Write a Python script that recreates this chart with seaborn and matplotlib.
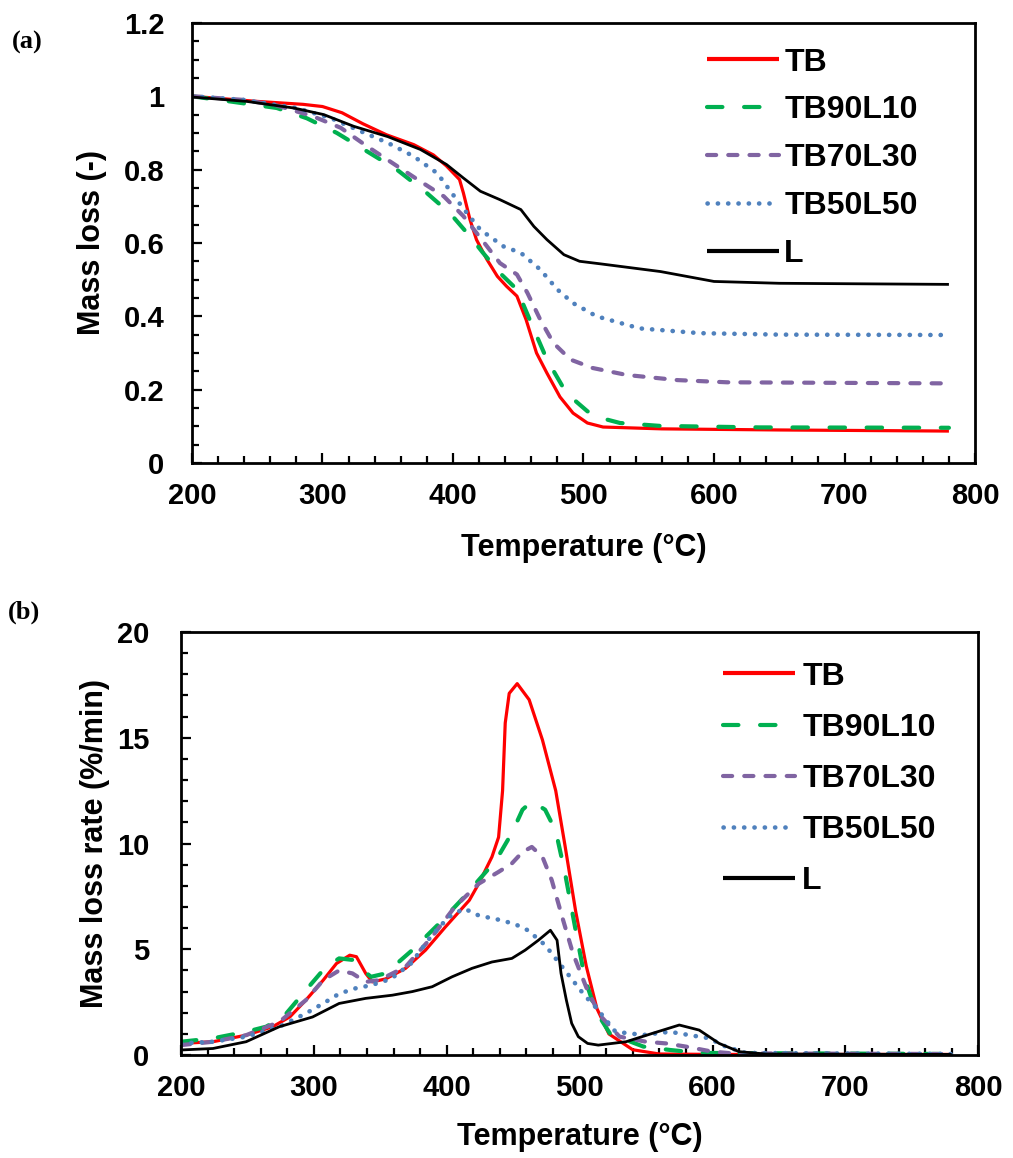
# TGA / DTG curves for TB, lignin (L) and their blends

import pandas as pd
import numpy as np

import matplotlib
matplotlib.use("Agg")
import matplotlib.pyplot as plt
import seaborn as sns
from matplotlib.ticker import MultipleLocator, FuncFormatter


# ---- data ----
names = ["TB", "TB90L10", "TB70L30", "TB50L50", "L"]

# (a) mass loss (-)
tb_T_a = [200, 250, 285, 300, 315, 331, 349, 370, 385, 395, 405, 408, 413, 418, 426, 434,
          441, 449, 456, 464, 472, 482, 492, 503, 515, 560, 650, 780]
tb_m_a = [1.0, 0.986, 0.978, 0.972, 0.955, 0.925, 0.895, 0.868, 0.84, 0.81, 0.773, 0.736,
          0.664, 0.609, 0.555, 0.509, 0.482, 0.455, 0.391, 0.30, 0.245, 0.18, 0.136, 0.109,
          0.098, 0.093, 0.09, 0.087]

tb90_T_a = [200, 229, 265, 288, 311, 334, 357, 380, 398, 413, 423, 436, 449, 462, 472, 487,
            503, 513, 528, 559, 635, 780]
tb90_m_a = [1.0, 0.986, 0.968, 0.94, 0.90, 0.85, 0.80, 0.736, 0.68, 0.618, 0.573, 0.518,
            0.473, 0.364, 0.282, 0.19, 0.141, 0.123, 0.109, 0.101, 0.097, 0.096]

tb70_T_a = [200, 240, 265, 293, 314, 334, 357, 375, 393, 408, 421, 436, 449, 457, 467, 477,
            490, 507, 533, 572, 610, 780]
tb70_m_a = [1.0, 0.99, 0.975, 0.945, 0.914, 0.864, 0.81, 0.768, 0.727, 0.673, 0.614, 0.545,
            0.514, 0.464, 0.39, 0.327, 0.282, 0.259, 0.24, 0.226, 0.22, 0.217]

tb50_T_a = [200, 240, 280, 306, 329, 350, 370, 388, 401, 411, 421, 439, 452, 467, 480, 492,
            510, 543, 589, 650, 780]
tb50_m_a = [1.0, 0.99, 0.968, 0.941, 0.905, 0.873, 0.836, 0.79, 0.727, 0.68, 0.636, 0.59,
            0.573, 0.527, 0.473, 0.436, 0.40, 0.367, 0.354, 0.35, 0.349]

l_T_a = [200, 242, 278, 301, 324, 350, 375, 395, 408, 421, 436, 452, 462, 472, 485, 497,
         513, 559, 600, 650, 780]
l_m_a = [0.998, 0.986, 0.968, 0.95, 0.918, 0.89, 0.855, 0.814, 0.777, 0.741, 0.718, 0.691,
         0.645, 0.609, 0.568, 0.55, 0.543, 0.522, 0.495, 0.49, 0.487]

# (b) mass loss rate (%/min)
tb_T_b = [200, 224, 249, 269, 282, 294, 307, 317, 327, 332, 339, 344, 354, 369, 384, 399,
          417, 424, 434, 439, 442, 444, 447, 453, 462, 472, 482, 489, 497, 505, 513, 522,
          540, 560, 600, 780]
tb_v_b = [0.55, 0.63, 0.94, 1.34, 1.81, 2.6, 3.54, 4.33, 4.72, 4.65, 3.86, 3.46, 3.6, 4.1,
          4.96, 6.06, 7.32, 8.1, 9.37, 10.3, 12.5, 15.7, 17.1, 17.56, 16.8, 14.9, 12.5, 9.9,
          6.8, 4.2, 2.2, 1.0, 0.25, 0.05, 0.03, 0.03]

tb90_T_b = [200, 224, 249, 264, 277, 294, 309, 319, 329, 337, 343, 354, 374, 394, 412, 424,
            437, 449, 457, 464, 474, 482, 489, 497, 504, 512, 523, 548, 568, 590, 780]
tb90_v_b = [0.63, 0.79, 1.1, 1.34, 1.8, 3.07, 4.17, 4.57, 4.5, 4.0, 3.7, 3.86, 4.96, 6.2,
            7.4, 8.27, 9.2, 10.5, 11.6, 12.0, 11.6, 10.6, 8.6, 5.9, 3.6, 2.1, 1.0, 0.4,
            0.24, 0.1, 0.05]

tb70_T_b = [200, 224, 249, 274, 294, 307, 319, 329, 339, 349, 369, 389, 406, 424, 439, 449,
            457, 464, 472, 479, 487, 495, 505, 515, 530, 550, 565, 580, 600, 615, 780]
tb70_v_b = [0.47, 0.63, 0.94, 1.57, 2.6, 3.54, 4.0, 3.86, 3.46, 3.54, 4.17, 5.6, 7.0, 8.1,
            8.66, 9.06, 9.6, 9.84, 9.37, 8.27, 6.5, 4.8, 3.2, 1.9, 0.87, 0.63, 0.55, 0.4,
            0.16, 0.08, 0.05]

tb50_T_b = [200, 224, 249, 274, 294, 307, 319, 331, 343, 358, 373, 388, 401, 413, 424, 439,
            451, 461, 474, 484, 494, 504, 513, 527, 548, 568, 582, 597, 610, 625, 780]
tb50_v_b = [0.55, 0.63, 0.87, 1.34, 1.97, 2.44, 2.9, 3.15, 3.3, 3.6, 4.33, 5.6, 6.5, 6.93,
            6.6, 6.4, 6.2, 5.9, 5.2, 4.4, 3.6, 2.8, 2.2, 1.1, 0.95, 1.1, 0.95, 0.8, 0.4,
            0.1, 0.05]

l_T_b = [200, 224, 249, 274, 299, 319, 339, 359, 374, 389, 404, 419, 434, 449, 459, 469,
         478, 483, 486, 490, 494, 499, 506, 514, 535, 555, 575, 590, 605, 620, 640, 780]
l_v_b = [0.24, 0.31, 0.63, 1.34, 1.8, 2.44, 2.68, 2.83, 3.0, 3.23, 3.7, 4.1, 4.4, 4.57,
         4.96, 5.43, 5.9, 5.43, 3.86, 2.6, 1.5, 0.87, 0.55, 0.47, 0.63, 1.03, 1.42, 1.18,
         0.55, 0.16, 0.05, 0.03]


def long_df(pairs):
    '''stack (T, y) lists into one long dataframe with a sample column'''
    frames = []
    for name, (T, y) in zip(names, pairs):
        frames.append(pd.DataFrame({"T": T, "y": y, "sample": name}))
    return pd.concat(frames, ignore_index=True)


df_a = long_df([(tb_T_a, tb_m_a), (tb90_T_a, tb90_m_a), (tb70_T_a, tb70_m_a),
                (tb50_T_a, tb50_m_a), (l_T_a, l_m_a)])
df_b = long_df([(tb_T_b, tb_v_b), (tb90_T_b, tb90_v_b), (tb70_T_b, tb70_v_b),
                (tb50_T_b, tb50_v_b), (l_T_b, l_v_b)])

# line looks (Excel-ish)
styles = {
    "TB":      dict(color="#FF0000", lw=2.3, ls="-"),
    "TB90L10": dict(color="#00B050", lw=3.0, ls=(0, (3.7, 5.2))),
    "TB70L30": dict(color="#8064A2", lw=3.0, ls=(0, (2.2, 2.9))),
    "TB50L50": dict(color="#4F81BD", lw=3.3, ls=(0, (0.05, 2.2))),
    "L":       dict(color="black", lw=2.0, ls="-"),
}

sns.set_theme(style="white")
plt.rcParams["font.family"] = ["Liberation Sans", "DejaVu Sans"]
plt.rcParams["font.weight"] = "bold"
plt.rcParams["axes.labelweight"] = "bold"
plt.rcParams["axes.edgecolor"] = "black"
plt.rcParams["axes.linewidth"] = 2.0

fig = plt.figure(figsize=(10.13, 11.58), dpi=100)
ax_a = fig.add_axes([0.1895, 0.6002, 0.773, 0.380])
ax_b = fig.add_axes([0.1787, 0.0889, 0.787, 0.3653])


def draw(ax, df):
    for name in names:
        st = styles[name]
        sub = df[df["sample"] == name]
        sns.lineplot(data=sub, x="T", y="y", ax=ax, color=st["color"], linewidth=st["lw"],
                     linestyle=st["ls"], dash_capstyle="round", solid_capstyle="butt",
                     errorbar=None, sort=False, label=name)


def style_axes(ax, ymax, ymaj, ymin, ypad, xlab_y, ylab_x):
    ax.set_xlim(200, 800)
    ax.set_ylim(0, ymax)
    ax.xaxis.set_major_locator(MultipleLocator(100))
    ax.xaxis.set_minor_locator(MultipleLocator(20))
    ax.yaxis.set_major_locator(MultipleLocator(ymaj))
    ax.yaxis.set_minor_locator(MultipleLocator(ymin))
    ax.yaxis.set_major_formatter(FuncFormatter(lambda v, p: "%g" % round(v, 3)))
    ax.tick_params(which="both", direction="in", bottom=True, left=True, top=False,
                   right=False, color="black", width=1.6, labelsize=21, labelcolor="black")
    ax.tick_params(which="major", length=7)
    ax.tick_params(which="minor", length=5)
    ax.tick_params(axis="y", pad=ypad)
    ax.tick_params(axis="x", pad=14)
    for s in ax.spines.values():
        s.set_visible(True)
        s.set_color("black")
        s.set_linewidth(2.0)
    ax.set_xlabel("Temperature (°C)", fontsize=22, color="black")
    ax.xaxis.set_label_coords(0.5, xlab_y)
    ax.xaxis.label.set_va("center")
    ax.yaxis.label.set_va("center")
    ax.yaxis.set_label_coords(ylab_x, 0.5)


draw(ax_a, df_a)
draw(ax_b, df_b)

style_axes(ax_a, 1.2, 0.2, 0.05, 20, -0.193, -0.128)
ax_a.set_ylabel("Mass loss (-)", fontsize=22, color="black")
style_axes(ax_b, 20, 5, 1, 23, -0.194, -0.108)
ax_b.set_ylabel("Mass loss rate (%/min)", fontsize=22, color="black")

for ax, anchor, pad, sp in [(ax_a, (0.658, 0.944), 0.16, 0.56),
                            (ax_b, (0.680, 0.930), 0.23, 0.66)]:
    leg = ax.legend(loc="upper left", bbox_to_anchor=anchor, frameon=False, fontsize=23,
                    handlelength=2.25, handletextpad=pad, labelspacing=sp,
                    borderpad=0, borderaxespad=0)
    for line, text in zip(leg.get_lines(), leg.get_texts()):
        text.set_color("black")
        if text.get_text() in ("TB", "L"):
            line.set_linewidth(3.0)

fig.text(12 / 1013, 1 - 42 / 1158, "(a)", family=["Liberation Serif"], weight="bold",
         fontsize=19, va="center", ha="left", color="black")
fig.text(8 / 1013, 1 - 612 / 1158, "(b)", family=["Liberation Serif"], weight="bold",
         fontsize=19, va="center", ha="left", color="black")

fig.savefig("out.png", dpi=100)
